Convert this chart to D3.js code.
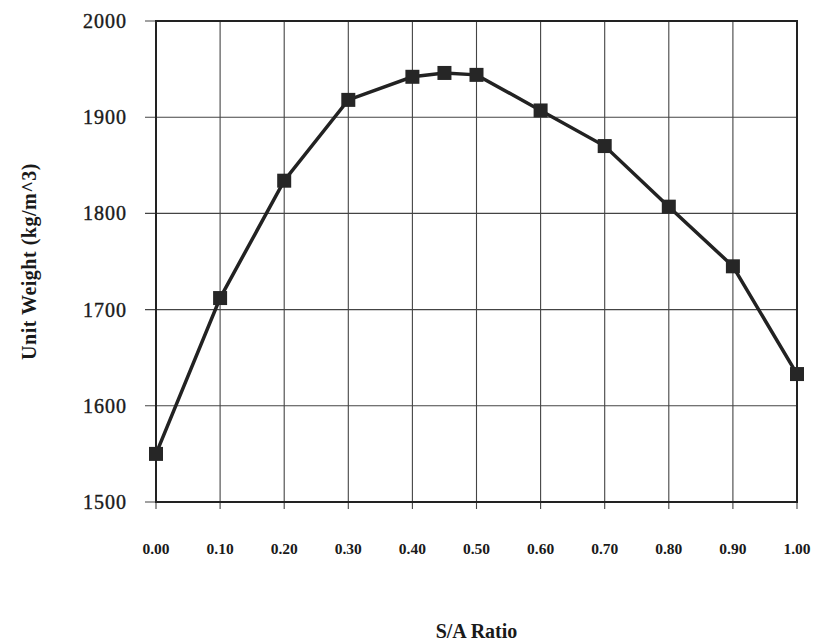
<!DOCTYPE html>
<html>
<head>
<meta charset="utf-8">
<script src="https://cdn.jsdelivr.net/npm/d3@7"></script>
<style>
  body { margin: 0; background: #fff; }
  svg { display: block; }
  text { font-family: "Liberation Serif", "DejaVu Serif", serif; fill: #1a1a1a; }
</style>
</head>
<body>
<div id="chart"></div>
<script>
// S/A ratio vs unit weight
const saRatio = [0.00, 0.10, 0.20, 0.30, 0.40, 0.45, 0.50, 0.60, 0.70, 0.80, 0.90, 1.00];
const unitWeight = [1550, 1712, 1834, 1918, 1942, 1946, 1944, 1907, 1870, 1807, 1745, 1633];
const xTicks = [0, 0.1, 0.2, 0.3, 0.4, 0.5, 0.6, 0.7, 0.8, 0.9, 1.0];
const yTicks = [1500, 1600, 1700, 1800, 1900, 2000];

const width = 816, height = 643;
const margin = { top: 21, right: 19, bottom: 141, left: 156 };

const svg = d3.select('#chart').append('svg')
    .attr('width', width)
    .attr('height', height);

const x = d3.scaleLinear().domain([0, 1]).range([margin.left, width - margin.right]);
const y = d3.scaleLinear().domain([1500, 2000]).range([height - margin.bottom, margin.top]);

// grid
svg.append('g')
    .selectAll('line')
    .data(xTicks)
    .join('line')
    .attr('x1', d => x(d)).attr('x2', d => x(d))
    .attr('y1', y(2000)).attr('y2', y(1500) + 7)
    .attr('stroke', '#444')
    .attr('stroke-width', 1.1);

svg.append('g')
    .selectAll('line')
    .data(yTicks)
    .join('line')
    .attr('x1', x(0) - 11).attr('x2', x(1))
    .attr('y1', d => y(d)).attr('y2', d => y(d))
    .attr('stroke', '#444')
    .attr('stroke-width', 1.1);

// frame
svg.append('rect')
    .attr('x', x(0)).attr('y', y(2000))
    .attr('width', x(1) - x(0)).attr('height', y(1500) - y(2000))
    .attr('fill', 'none')
    .attr('stroke', '#222')
    .attr('stroke-width', 2);

// tick labels
svg.append('g')
    .selectAll('text')
    .data(yTicks)
    .join('text')
    .attr('x', x(0) - 29)
    .attr('y', d => y(d))
    .attr('dy', '0.35em')
    .attr('text-anchor', 'end')
    .attr('font-size', 20)
    .attr('letter-spacing', 1)
    .attr('stroke', '#1a1a1a')
    .attr('stroke-width', 0.4)
    .text(d => d);

svg.append('g')
    .selectAll('text')
    .data(xTicks)
    .join('text')
    .attr('x', d => x(d))
    .attr('y', 554)
    .attr('text-anchor', 'middle')
    .attr('font-size', 15.5)
    .attr('font-weight', 'bold')
    .text(d => d.toFixed(2));

// axis titles
svg.append('text')
    .attr('x', (x(0) + x(1)) / 2)
    .attr('y', 638)
    .attr('text-anchor', 'middle')
    .attr('font-size', 20)
    .attr('font-weight', 'bold')
    .text('S/A Ratio');

svg.append('text')
    .attr('transform', `translate(36,${(y(1500) + y(2000)) / 2}) rotate(-90)`)
    .attr('text-anchor', 'middle')
    .attr('font-size', 20)
    .attr('font-weight', 'bold')
    .attr('letter-spacing', 0.5)
    .text('Unit Weight  (kg/m^3)');

// series
const pts = saRatio.map((d, i) => [d, unitWeight[i]]);

svg.append('path')
    .datum(pts)
    .attr('fill', 'none')
    .attr('stroke', '#222')
    .attr('stroke-width', 3.5)
    .attr('d', d3.line().x(d => x(d[0])).y(d => y(d[1])));

const s = 14;
svg.append('g')
    .selectAll('rect')
    .data(pts)
    .join('rect')
    .attr('x', d => x(d[0]) - s / 2)
    .attr('y', d => y(d[1]) - s / 2)
    .attr('width', s)
    .attr('height', s)
    .attr('fill', '#262626');
</script>
</body>
</html>
